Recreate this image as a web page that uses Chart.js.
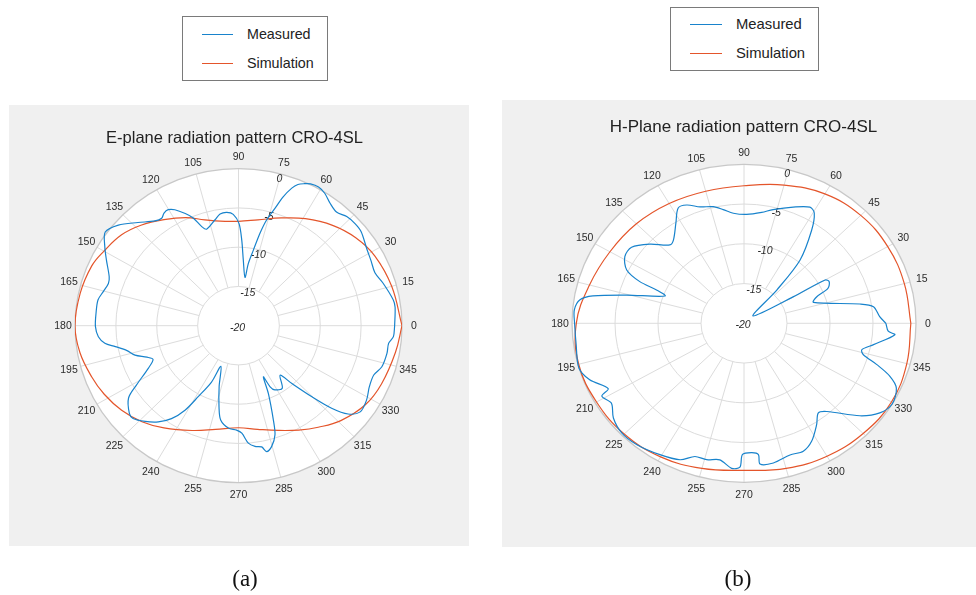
<!DOCTYPE html>
<html>
<head>
<meta charset="utf-8">
<script src="https://cdn.jsdelivr.net/npm/chart.js@4.4.1/dist/chart.umd.min.js"></script>
<style>
  html, body { margin: 0; padding: 0; background: #fff; }
  #page { position: relative; width: 976px; height: 595px; overflow: hidden;
          font-family: "Liberation Sans", Arial, sans-serif; color: #262626; }
  .panel { position: absolute; background: #f0f0f0; }
  .plot { position: absolute; top: 0; }
  .title { position: absolute; white-space: nowrap; transform: translate(-50%, -50%); color: #222; }
  .legend { position: absolute; background: #fff; border: 1px solid #7a7a7a; box-sizing: border-box; }
  .legend .swatch { position: absolute; height: 0; border-top: 1.2px solid; }
  .legend .label { position: absolute; white-space: nowrap; transform: translateY(-50%); color: #222; }
  .caption { position: absolute; font-family: "Liberation Serif", "DejaVu Serif", serif;
             font-size: 23px; transform: translate(-50%, -50%); color: #111; }
</style>
</head>
<body>
<div id="page"></div>
<script>
// polar tick labels
const angleTicks = [0, 15, 30, 45, 60, 75, 90, 105, 120, 135, 150, 165,
                    180, 195, 210, 225, 240, 255, 270, 285, 300, 315, 330, 345];
const ringTicks = [-20, -15, -10, -5, 0];

// E-plane, measured (deg / dB)
const eMeasAngles = [0, 7, 10, 17, 22, 27, 32, 38.6, 42.4, 46.4, 50.4, 54.3, 58, 61, 64, 66, 68,
  69.6, 71.6, 73.4, 75.7, 77.4, 79.3, 81.4, 82.6, 86, 87.9, 89.7, 92.6, 95.7, 99, 102,
  107.6, 109.6, 112, 114.5, 117.8, 120.2, 122.4, 124.5, 127.4, 133.1, 138.9, 143.8,
  148.4, 152.6, 158.5, 161.3, 165.3, 169.2, 174.8, 180.4, 184.7, 187.8, 190, 193.1,
  196.5, 199.7, 202.3, 206.2, 211.2, 214.4, 219.9, 222.5, 226.9, 231.3, 235.3, 238.7,
  241.4, 245.3, 247.4, 253, 257, 259.7, 264.6, 269, 271.7, 274.6, 277.5, 280.4, 282.1,
  284.8, 287.8, 289.5, 292.9, 295, 296.4, 298.5, 303.9, 308.9, 311.5, 314.7, 317.3,
  320, 323.6, 328.9, 334, 339.2, 343.4, 349, 353, 355.8, 360];
const eMeasured = [-0.9, -0.7, -0.8, -1.5, -2.0, -1.8, -1.5, -0.8, -0.7, -0.8, -1.2, -0.8, -0.1, 0.2, 0.1, -0.2, -0.6,
  -1.3, -2.7, -4.4, -6.1, -7.9, -10.2, -12.0, -13.8, -11.6, -9.1, -7.0, -5.8, -5.5, -5.6, -6.2,
  -7.1, -6.6, -5.2, -4.3, -3.3, -2.9, -3.0, -3.4, -3.2, -2.0, -0.5, 0.2,
  -0.8, -1.8, -3.0, -3.2, -2.9, -2.5, -2.5, -2.5, -2.8, -3.5, -4.7, -6.0,
  -6.8, -8.1, -8.7, -7.7, -5.4, -3.7, -2.6, -2.5, -3.3, -4.3, -5.6, -7.4,
  -9.7, -12.1, -14.4, -11.9, -9.4, -7.8, -6.9, -6.7, -6.3, -5.0, -4.5, -4.3, -3.6,
  -4.1, -5.4, -7.2, -10.6, -12.8, -11.3, -10.7, -10.4, -11.9, -10.2, -7.3, -4.5,
  -2.5, -1.5, -1.7, -2.2, -2.3, -1.7, -1.5, -1.5, -1.0, -0.9];

// E-plane, simulation
const eSimAngles = [0, 15, 28, 38, 48, 59, 69, 80, 90, 97, 107, 115, 124, 133, 141, 150, 157, 168,
  180, 190, 200, 208, 217, 226, 235, 247, 258, 270, 280, 290, 299, 307, 316, 327, 337, 350, 360];
const eSimulated = [0, -0.6, -1.1, -1.8, -2.8, -4.1, -5.3, -6.3, -6.7, -6.6, -5.9, -4.8, -3.7, -2.5, -1.6, -1.0, -0.5, -0.2,
  0, -0.3, -0.9, -1.4, -2.1, -3.0, -4.1, -5.5, -6.5, -7.0, -6.6, -5.8, -4.8, -3.8, -2.6, -1.5, -1.0, -0.5, 0];

// H-plane, measured
const hMeasAngles = [0, 3, 7.9, 10.2, 18.1, 21.5, 24.2, 27.8, 30, 30.2, 41.6, 47.7, 50.7, 56.1,
  59.5, 62.3, 68.6, 76.7, 81.6, 88.7, 95.1, 99.6, 103.7, 109.2, 114.1, 117.8, 122.1,
  128.1, 131.2, 137.7, 143.8, 148.8, 153.8, 156.6, 157.6, 159.5, 165.4, 168.9, 171.2,
  175.1, 180, 187.8, 196.3, 201.6, 207.5, 209, 213.1, 218.1, 224.1, 230.8, 239.4, 246.6,
  251.2, 255.8, 260.7, 265.5, 268.5, 269.4, 273.2, 275.8, 276, 281, 287.9, 293.2, 297.9,
  303.5, 307.5, 311, 319.2, 324.5, 329.5, 335.3, 338.6, 341.4, 344.2, 346.4, 349.9,
  355.3, 356.6, 360];
const hMeasured = [-3.5, -4.2, -4.8, -6.3, -11.5, -10.9, -9.3, -8.8, -9.1, -13.4, -18.6, -14.3, -9.7, -5.9,
  -3.9, -3.5, -4.3, -5.3, -5.9, -6.3, -6.1, -5.5, -4.9, -4.5, -3.7, -3.6, -5.1,
  -6.7, -6.9, -5.2, -3.8, -3.8, -4.8, -6.8, -9.0, -10.2, -5.9, -2.1, -0.7,
  -0.2, -0.3, -0.3, 0, -0.7, -2.2, -1.1, -1.6, -0.7, -0.2, -0.3, -0.8, -1.3,
  -2.3, -2.3, -2.6, -1.7, -1.9, -3.5, -3.7, -3.4, -2.2, -2.1, -2.6, -2.5, -3.2,
  -4.7, -5.8, -5.3, -2.2, -0.6, 0, -0.5, -1.8, -3.7, -5.6, -5.9, -4.7,
  -2.4, -3.2, -3.5];

// H-plane, simulation
const hSimAngles = [0, 15, 30, 45, 60, 75, 90, 105, 120, 135, 150, 165, 180,
  195, 210, 225, 240, 255, 270, 285, 300, 315, 330, 345, 360];
const hSimulated = [-0.6, -0.7, -0.7, -0.8, -1.2, -2.0, -2.7, -2.8, -2.6, -2.3, -2.0, -1.4, -0.5,
  -0.1, -0.2, -0.3, -0.6, -1.1, -1.5, -1.1, -0.7, -0.4, -0.2, -0.4, -0.6];

const seriesNames = ['Measured', 'Simulation'];
const seriesColors = ['#1883cc', '#e4552b'];

const rMin = ringTicks[0];

function toXY(angles, values) {
    return angles.map((a, i) => {
        const r = values[i] - rMin;
        const t = a * Math.PI / 180;
        return { x: r * Math.cos(t), y: r * Math.sin(t) };
    });
}

// polar grid, drawn under the curves using the chart's own scales
const polarGrid = {
    id: 'polarGrid',
    beforeDatasetsDraw(chart, args, opts) {
        const { ctx, scales: { x, y } } = chart;
        const span = ringTicks[ringTicks.length - 1] - rMin;
        const cx = x.getPixelForValue(0);
        const cy = y.getPixelForValue(0);
        const rx = x.getPixelForValue(span) - cx;
        const ry = cy - y.getPixelForValue(span);
        ctx.save();

        ctx.fillStyle = '#ffffff';
        ctx.beginPath();
        ctx.ellipse(cx, cy, rx, ry, 0, 0, Math.PI * 2);
        ctx.fill();

        // spokes from the inner ring outwards
        const inner = (ringTicks[1] - rMin) / span;
        ctx.strokeStyle = '#dcdcdc';
        ctx.lineWidth = 1;
        angleTicks.forEach(a => {
            const t = a * Math.PI / 180;
            ctx.beginPath();
            ctx.moveTo(cx + rx * inner * Math.cos(t), cy - ry * inner * Math.sin(t));
            ctx.lineTo(cx + rx * Math.cos(t), cy - ry * Math.sin(t));
            ctx.stroke();
        });

        // rings
        ringTicks.slice(1, -1).forEach(v => {
            const f = (v - rMin) / span;
            ctx.beginPath();
            ctx.ellipse(cx, cy, rx * f, ry * f, 0, 0, Math.PI * 2);
            ctx.stroke();
        });
        ctx.strokeStyle = '#c8c8c8';
        ctx.lineWidth = 1.3;
        ctx.beginPath();
        ctx.ellipse(cx, cy, rx, ry, 0, 0, Math.PI * 2);
        ctx.stroke();

        // angle labels
        ctx.fillStyle = '#2b2b2b';
        ctx.font = '10.5px "Liberation Sans", Arial, sans-serif';
        ctx.textAlign = 'center';
        ctx.textBaseline = 'middle';
        angleTicks.forEach(a => {
            const t = a * Math.PI / 180;
            ctx.fillText(String(a), cx + (rx + 12) * Math.cos(t), cy - (ry + 12) * Math.sin(t) + 0.5);
        });

        // ring labels along 75 degrees, centre label for the minimum
        ctx.font = 'italic 10.5px "Liberation Sans", Arial, sans-serif';
        const t = 75 * Math.PI / 180;
        ringTicks.forEach(v => {
            const f = (v - rMin) / span;
            if (f === 0) {
                ctx.fillText(String(v), cx - 1, cy + 2);
            } else {
                ctx.fillText(String(v), cx + (rx * f - 5) * Math.cos(t), cy - (ry * f - 5) * Math.sin(t));
            }
        });
        ctx.restore();
    }
};

const panels = [
    {
        id: 'a', left: 0, title: 'E-plane radiation pattern CRO-4SL',
        meas: toXY(eMeasAngles, eMeasured), sim: toXY(eSimAngles, eSimulated),
        padding: { left: 75, right: 86, top: 168.7, bottom: 112.3 },
        panel: { left: 9, top: 105, width: 460, height: 441 },
        titlePos: { x: 234.5, y: 137, size: 16.5 },
        legend: { left: 182, top: 16, width: 146, height: 65, lineX: 19, lineW: 31, textX: 64, rows: [18, 47], size: 14.3 },
        caption: { x: 245, y: 579 }
    },
    {
        id: 'b', left: 488, title: 'H-Plane radiation pattern CRO-4SL',
        meas: toXY(hMeasAngles, hMeasured), sim: toXY(hSimAngles, hSimulated),
        padding: { left: 84, right: 60, top: 164.3, bottom: 112.7 },
        panel: { left: 502, top: 100, width: 474, height: 447 },
        titlePos: { x: 743.5, y: 127, size: 17 },
        legend: { left: 670, top: 7, width: 149, height: 64, lineX: 19, lineW: 32, textX: 65, rows: [17.3, 46], size: 14.8 },
        caption: { x: 738, y: 579 }
    }
];

const page = document.getElementById('page');

function addEl(cls, css, text) {
    const el = document.createElement('div');
    el.className = cls;
    Object.assign(el.style, css);
    if (text !== undefined) el.textContent = text;
    page.appendChild(el);
    return el;
}

panels.forEach(p => {
    addEl('panel', {
        left: p.panel.left + 'px', top: p.panel.top + 'px',
        width: p.panel.width + 'px', height: p.panel.height + 'px'
    });

    const canvas = document.createElement('canvas');
    canvas.className = 'plot';
    canvas.width = 488;
    canvas.height = 595;
    canvas.style.left = p.left + 'px';
    canvas.style.width = '488px';
    canvas.style.height = '595px';
    page.appendChild(canvas);

    new Chart(canvas.getContext('2d'), {
        type: 'scatter',
        data: {
            datasets: [{
                label: seriesNames[0],
                data: p.meas,
                borderColor: seriesColors[0],
                borderWidth: 1.2,
                showLine: true,
                pointRadius: 0,
                tension: 0.3
            }, {
                label: seriesNames[1],
                data: p.sim,
                borderColor: seriesColors[1],
                borderWidth: 1.2,
                showLine: true,
                pointRadius: 0,
                tension: 0.4
            }]
        },
        options: {
            responsive: false,
            animation: false,
            events: [],
            layout: { padding: p.padding },
            plugins: {
                legend: { display: false },
                tooltip: { enabled: false }
            },
            scales: {
                x: { type: 'linear', min: -20, max: 20, display: false },
                y: { type: 'linear', min: -20, max: 20, display: false }
            }
        },
        plugins: [polarGrid]
    });

    addEl('title', {
        left: p.titlePos.x + 'px', top: p.titlePos.y + 'px', fontSize: p.titlePos.size + 'px'
    }, p.title);

    const lg = addEl('legend', {
        left: p.legend.left + 'px', top: p.legend.top + 'px',
        width: p.legend.width + 'px', height: p.legend.height + 'px'
    });
    seriesNames.forEach((name, i) => {
        const sw = document.createElement('div');
        sw.className = 'swatch';
        Object.assign(sw.style, {
            left: p.legend.lineX + 'px', top: (p.legend.rows[i] - 1) + 'px',
            width: p.legend.lineW + 'px', borderTopColor: seriesColors[i]
        });
        lg.appendChild(sw);
        const lb = document.createElement('div');
        lb.className = 'label';
        lb.textContent = name;
        Object.assign(lb.style, {
            left: p.legend.textX + 'px', top: (p.legend.rows[i] - 1) + 'px', fontSize: p.legend.size + 'px'
        });
        lg.appendChild(lb);
    });

    addEl('caption', { left: p.caption.x + 'px', top: p.caption.y + 'px' }, '(' + p.id + ')');
});
</script>
</body>
</html>
